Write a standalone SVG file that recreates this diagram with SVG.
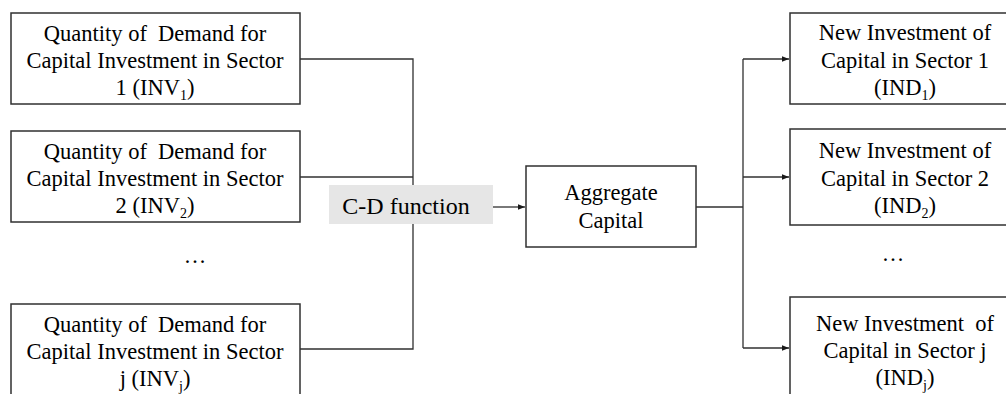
<svg xmlns="http://www.w3.org/2000/svg" width="1006" height="394" viewBox="0 0 1006 394">
  <defs>
    <marker id="arrow" viewBox="0 0 10 10" refX="10" refY="5" markerWidth="7" markerHeight="7" markerUnits="userSpaceOnUse" orient="auto">
      <path d="M0,1 L10,5 L0,9 z" fill="#1a1a1a"/>
    </marker>
  </defs>
  <rect width="1006" height="394" fill="#ffffff"/>

  <!-- connectors -->
  <g id="connectors" fill="none" stroke="#303030" stroke-width="1.3">
    <path d="M300,59 H413 V349 H300"/>
    <path d="M300,177 H413"/>
    <path d="M493,207 H525" marker-end="url(#arrow)"/>
    <path d="M696,207 H743"/>
    <path d="M743,59 V348"/>
    <path d="M743,59 H789" marker-end="url(#arrow)"/>
    <path d="M743,177 H789" marker-end="url(#arrow)"/>
    <path d="M743,348 H789" marker-end="url(#arrow)"/>
  </g>

  <!-- demand boxes -->
  <g id="inv1">
    <rect x="11" y="13" width="289" height="91" fill="#ffffff" stroke="#303030" stroke-width="1.5"/>
    <text font-family="Liberation Serif, serif" font-size="22.5" text-anchor="middle" x="155" y="41">Quantity of&#160; Demand for</text>
    <text font-family="Liberation Serif, serif" font-size="22.5" text-anchor="middle" x="155" y="68">Capital Investment in Sector</text>
    <text font-family="Liberation Serif, serif" font-size="22.5" text-anchor="middle" x="155" y="95">1 (INV<tspan font-size="14" dy="5">1</tspan><tspan dy="-5">)</tspan></text>
  </g>
  <g id="inv2">
    <rect x="11" y="131" width="289" height="91" fill="#ffffff" stroke="#303030" stroke-width="1.5"/>
    <text font-family="Liberation Serif, serif" font-size="22.5" text-anchor="middle" x="155" y="159">Quantity of&#160; Demand for</text>
    <text font-family="Liberation Serif, serif" font-size="22.5" text-anchor="middle" x="155" y="186">Capital Investment in Sector</text>
    <text font-family="Liberation Serif, serif" font-size="22.5" text-anchor="middle" x="155" y="213">2 (INV<tspan font-size="14" dy="5">2</tspan><tspan dy="-5">)</tspan></text>
  </g>
  <g id="inv-dots">
    <text font-family="Liberation Serif, serif" font-size="22.5" text-anchor="middle" x="195" y="263">…</text>
  </g>
  <g id="invj">
    <rect x="11" y="304" width="289" height="95" fill="#ffffff" stroke="#303030" stroke-width="1.5"/>
    <text font-family="Liberation Serif, serif" font-size="22.5" text-anchor="middle" x="155" y="332">Quantity of&#160; Demand for</text>
    <text font-family="Liberation Serif, serif" font-size="22.5" text-anchor="middle" x="155" y="359">Capital Investment in Sector</text>
    <text font-family="Liberation Serif, serif" font-size="22.5" text-anchor="middle" x="155" y="386">j (INV<tspan font-size="14" dy="5">j</tspan><tspan dy="-5">)</tspan></text>
  </g>

  <!-- C-D function label -->
  <g id="cd-function">
    <rect x="329" y="185" width="164" height="39" fill="#e6e6e6"/>
    <text font-family="Liberation Serif, serif" font-size="24" text-anchor="middle" x="406" y="214">C-D function</text>
  </g>

  <!-- aggregate capital -->
  <g id="aggregate">
    <rect x="526" y="166" width="170" height="81" fill="#ffffff" stroke="#303030" stroke-width="1.5"/>
    <text font-family="Liberation Serif, serif" font-size="22.5" text-anchor="middle" x="611" y="200">Aggregate</text>
    <text font-family="Liberation Serif, serif" font-size="22.5" text-anchor="middle" x="611" y="228">Capital</text>
  </g>

  <!-- new investment boxes -->
  <g id="ind1">
    <rect x="790" y="13" width="230" height="91" fill="#ffffff" stroke="#303030" stroke-width="1.5"/>
    <text font-family="Liberation Serif, serif" font-size="22.5" text-anchor="middle" x="905" y="40">New Investment of</text>
    <text font-family="Liberation Serif, serif" font-size="22.5" text-anchor="middle" x="905" y="68">Capital in Sector 1</text>
    <text font-family="Liberation Serif, serif" font-size="22.5" text-anchor="middle" x="905" y="95">(IND<tspan font-size="14" dy="5">1</tspan><tspan dy="-5">)</tspan></text>
  </g>
  <g id="ind2">
    <rect x="790" y="129" width="230" height="96" fill="#ffffff" stroke="#303030" stroke-width="1.5"/>
    <text font-family="Liberation Serif, serif" font-size="22.5" text-anchor="middle" x="905" y="158">New Investment of</text>
    <text font-family="Liberation Serif, serif" font-size="22.5" text-anchor="middle" x="905" y="186">Capital in Sector 2</text>
    <text font-family="Liberation Serif, serif" font-size="22.5" text-anchor="middle" x="905" y="213">(IND<tspan font-size="14" dy="5">2</tspan><tspan dy="-5">)</tspan></text>
  </g>
  <g id="ind-dots">
    <text font-family="Liberation Serif, serif" font-size="22.5" text-anchor="middle" x="893" y="261">…</text>
  </g>
  <g id="indj">
    <rect x="790" y="297" width="230" height="110" fill="#ffffff" stroke="#303030" stroke-width="1.5"/>
    <text font-family="Liberation Serif, serif" font-size="22.5" text-anchor="middle" x="905" y="331">New Investment&#160; of</text>
    <text font-family="Liberation Serif, serif" font-size="22.5" text-anchor="middle" x="905" y="358">Capital in Sector j</text>
    <text font-family="Liberation Serif, serif" font-size="22.5" text-anchor="middle" x="905" y="385">(IND<tspan font-size="14" dy="5">j</tspan><tspan dy="-5">)</tspan></text>
  </g>
</svg>
